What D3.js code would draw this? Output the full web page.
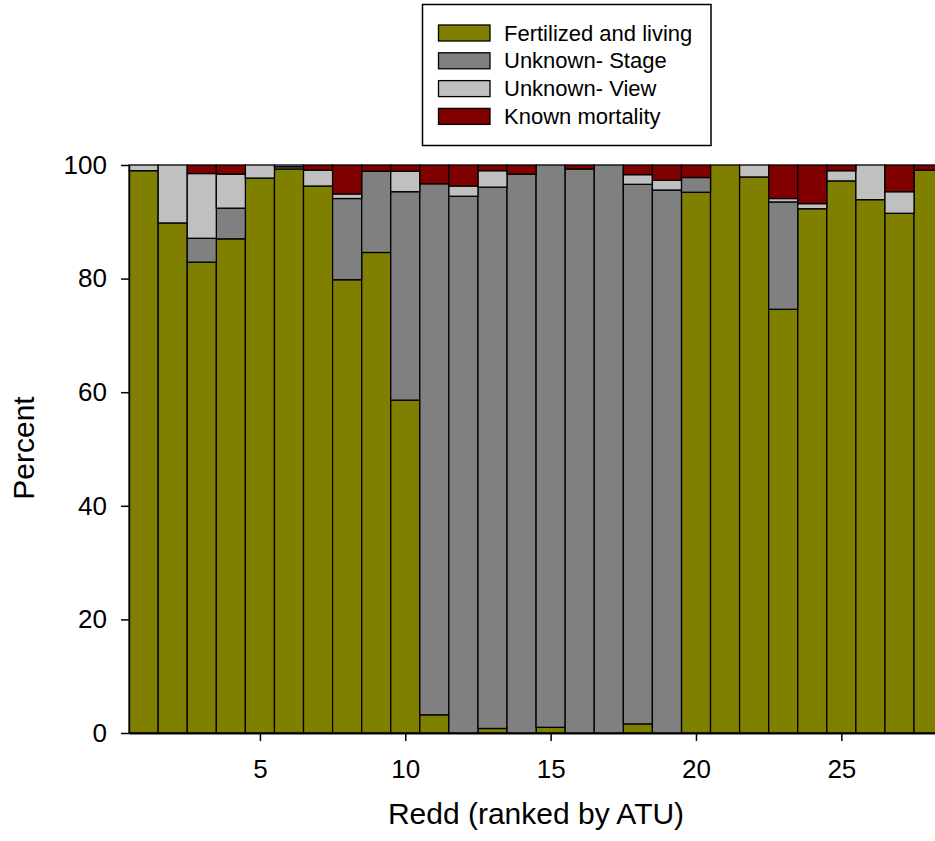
<!DOCTYPE html>
<html>
<head>
<meta charset="utf-8">
<script src="https://cdn.jsdelivr.net/npm/d3@7"></script>
<style>
  body { margin: 0; background: #fff; }
  text { font-family: "Liberation Sans", Arial, sans-serif; fill: #000; }
</style>
</head>
<body>
<svg id="chart" width="935" height="841"></svg>
<script>
// redd number (ranked by ATU)
var redds = d3.range(1, 29);
// percent of eggs per category, one value per redd
var fertilized = [99.0, 89.8, 82.9, 87.0, 97.7, 99.3, 96.3, 79.8, 84.6, 58.6, 3.2, 0, 0.8, 0, 1.0, 0, 0, 1.6, 0, 95.2, 100, 97.9, 74.6, 92.3, 97.2, 93.9, 91.5, 99.1];
var unknownStage = [0, 0, 4.2, 5.4, 0, 0.4, 0, 14.3, 14.3, 36.7, 93.5, 94.5, 95.3, 98.4, 99.0, 99.3, 100, 95.0, 95.6, 2.6, 0, 0, 18.9, 0, 0, 0, 0, 0];
var unknownView = [1.0, 10.2, 11.4, 6.0, 2.3, 0.3, 2.8, 0.8, 0, 3.6, 0, 1.8, 2.9, 0, 0, 0, 0, 1.7, 1.7, 0, 0, 2.1, 0.6, 0.9, 1.8, 6.1, 3.8, 0];
var mortality = [0, 0, 1.5, 1.6, 0, 0, 0.9, 5.1, 1.1, 1.1, 3.3, 3.7, 1.0, 1.6, 0, 0.7, 0, 1.7, 2.7, 2.2, 0, 0, 5.9, 6.8, 1.0, 0, 4.7, 0.9];
var seriesNames = ["Fertilized and living", "Unknown- Stage", "Unknown- View", "Known mortality"];
var seriesColors = ["#808000", "#808080", "#c0c0c0", "#800000"];
var yTicks = [0, 20, 40, 60, 80, 100];
var xTicks = [5, 10, 15, 20, 25];

var svg = d3.select("#chart");

var x = d3.scaleLinear().domain([0.5, 28.5]).range([129.1, 943.1]);
var y = d3.scaleLinear().domain([0, 100]).range([733, 165]);

// table for the stack
var keys = ["f", "s", "v", "m"];
var rows = redds.map(function (r, i) {
    return { redd: r, f: fertilized[i], s: unknownStage[i], v: unknownView[i], m: mortality[i] };
});
var stacked = d3.stack().keys(keys)(rows);

// bars
var g = svg.append("g");
stacked.forEach(function (layer, k) {
    g.selectAll(null).data(layer.filter(function (d) { return d[1] - d[0] > 0; }))
        .enter().append("rect")
        .attr("x", function (d) { return x(d.data.redd - 0.5); })
        .attr("width", function (d) { return x(d.data.redd + 0.5) - x(d.data.redd - 0.5); })
        .attr("y", function (d) { return y(d[1]); })
        .attr("height", function (d) { return y(d[0]) - y(d[1]); })
        .attr("fill", seriesColors[k])
        .attr("stroke", "#000")
        .attr("stroke-width", 1.3);
});

// y axis
var yAxis = svg.append("g").attr("transform", "translate(129,0)")
    .call(d3.axisLeft(y).tickValues(yTicks).tickSize(8).tickPadding(14).tickSizeOuter(0));
yAxis.select(".domain").attr("stroke-width", 1.5);
yAxis.selectAll(".tick line").attr("stroke-width", 1.5);
yAxis.selectAll("text").attr("font-size", 26).attr("font-family", "Liberation Sans, Arial, sans-serif");

// x axis
var xAxis = svg.append("g").attr("transform", "translate(0,733)")
    .call(d3.axisBottom(x).tickValues(xTicks).tickSize(8).tickPadding(19).tickSizeOuter(0));
xAxis.select(".domain").attr("stroke-width", 2);
xAxis.selectAll(".tick line").attr("stroke-width", 1.5);
xAxis.selectAll("text").attr("font-size", 26).attr("font-family", "Liberation Sans, Arial, sans-serif");

// axis titles
svg.append("text").attr("x", 536).attr("y", 824).attr("text-anchor", "middle")
    .attr("font-size", 30).text("Redd (ranked by ATU)");
svg.append("text").attr("transform", "translate(34,448) rotate(-90)").attr("text-anchor", "middle")
    .attr("font-size", 30).text("Percent");

// legend
var lg = svg.append("g");
lg.append("rect").attr("x", 422.5).attr("y", 4.5).attr("width", 288.5).attr("height", 141)
    .attr("fill", "#fff").attr("stroke", "#000").attr("stroke-width", 1.5);
seriesNames.forEach(function (name, i) {
    var yy = 25 + i * 27.8;
    lg.append("rect").attr("x", 438.5).attr("y", yy).attr("width", 51.5).attr("height", 16)
        .attr("fill", seriesColors[i]).attr("stroke", "#000").attr("stroke-width", 1.3);
    lg.append("text").attr("x", 504).attr("y", yy + 15.5).attr("font-size", 22).text(name);
});
</script>
</body>
</html>
